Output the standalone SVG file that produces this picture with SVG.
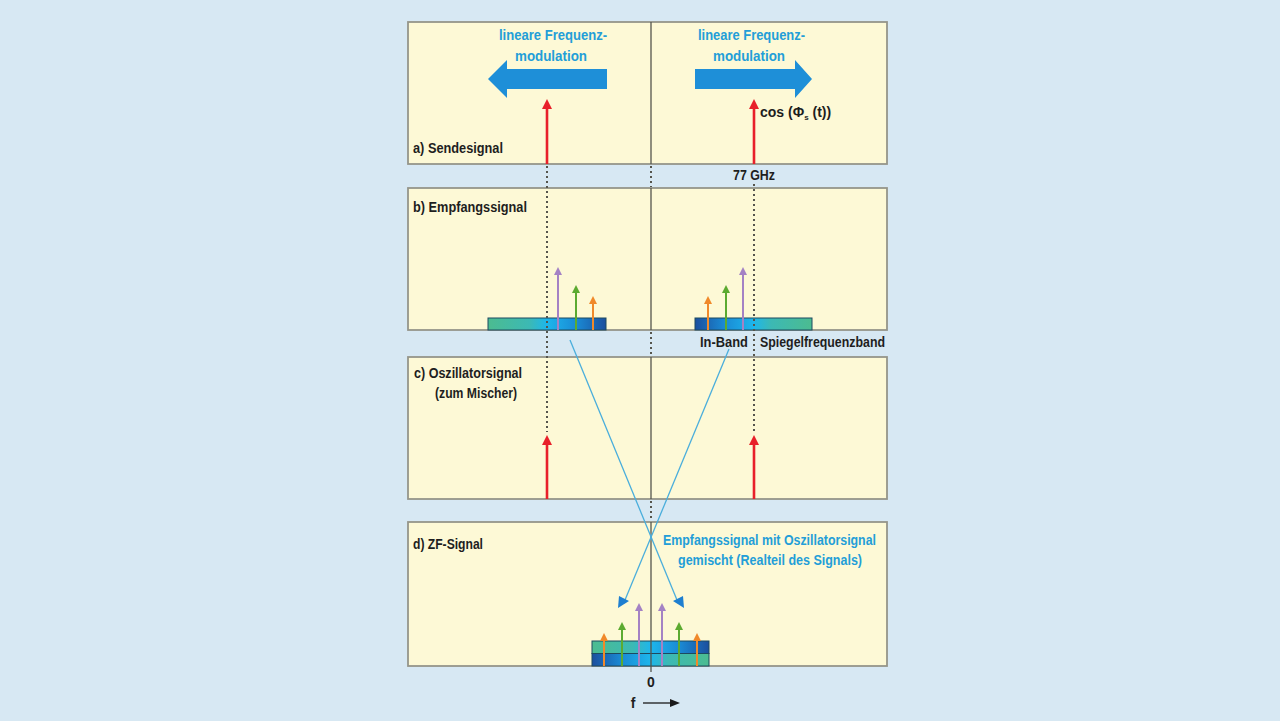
<svg xmlns="http://www.w3.org/2000/svg" width="1280" height="721" viewBox="0 0 1280 721">
<defs>
<style>
.panel{fill:#fdf9d6;stroke:#95958a;stroke-width:1.8}
.lbl{font-family:"Liberation Sans","DejaVu Sans",sans-serif;font-size:14px;font-weight:bold;fill:#1e1e1e}
.blu{font-family:"Liberation Sans","DejaVu Sans",sans-serif;font-size:14px;font-weight:bold;fill:#239ed8}
.axis{stroke:#55554d;stroke-width:1.3}
.dot{stroke:#55554d;stroke-width:2;stroke-dasharray:2 3;fill:none}
.red{stroke:#e8202a;stroke-width:2.6}
.pur{stroke:#a482c4;stroke-width:2}
.grn{stroke:#5caa30;stroke-width:2}
.org{stroke:#f0892a;stroke-width:2}
.diag{stroke:#4aaedc;stroke-width:1.3;fill:none}
.band{stroke:#1d4a60;stroke-width:1}
</style>
<linearGradient id="gLR" x1="0" x2="1" y1="0" y2="0">
<stop offset="0" stop-color="#4cbc90"/><stop offset="0.35" stop-color="#3cb9b4"/><stop offset="0.5" stop-color="#1db6ec"/><stop offset="0.75" stop-color="#1a8ad4"/><stop offset="1" stop-color="#1c4f9e"/>
</linearGradient>
<linearGradient id="gRL" x1="1" x2="0" y1="0" y2="0">
<stop offset="0" stop-color="#4cbc90"/><stop offset="0.35" stop-color="#3cb9b4"/><stop offset="0.5" stop-color="#1db6ec"/><stop offset="0.75" stop-color="#1a8ad4"/><stop offset="1" stop-color="#1c4f9e"/>
</linearGradient>
</defs>
<rect width="1280" height="721" fill="#d7e8f3"/>

<g id="panel-a">
<rect class="panel" x="408" y="22" width="479" height="142"/>
<polygon points="607,69 507,69 507,60 488,79 507,98 507,89 607,89" fill="#1e8fd8"/>
<polygon points="695,69 795,69 795,60 812,79 795,98 795,89 695,89" fill="#1e8fd8"/>
<text class="blu" x="499" y="40" textLength="108" lengthAdjust="spacingAndGlyphs">lineare Frequenz-</text>
<text class="blu" x="515" y="61" textLength="72" lengthAdjust="spacingAndGlyphs">modulation</text>
<text class="blu" x="698" y="40" textLength="107" lengthAdjust="spacingAndGlyphs">lineare Frequenz-</text>
<text class="blu" x="713" y="61" textLength="72" lengthAdjust="spacingAndGlyphs">modulation</text>
<line class="red" x1="547" y1="164" x2="547" y2="108"/>
<polygon points="542,109 547,99 552,109" fill="#e8202a"/>
<line class="red" x1="754" y1="164" x2="754" y2="108"/>
<polygon points="749,109 754,99 759,109" fill="#e8202a"/>
<text class="lbl" x="760" y="117" font-size="12.5">cos (Φ<tspan font-size="8" dy="3">s</tspan><tspan dy="-3"> (t))</tspan></text>
<text class="lbl" x="413" y="153" textLength="90" lengthAdjust="spacingAndGlyphs">a) Sendesignal</text>
</g>
<text class="lbl" x="733" y="180" font-size="13" textLength="42" lengthAdjust="spacingAndGlyphs">77 GHz</text>

<g id="panel-b">
<rect class="panel" x="408" y="188" width="479" height="142"/>
<text class="lbl" x="413" y="212" textLength="114" lengthAdjust="spacingAndGlyphs">b) Empfangssignal</text>
<rect class="band" x="488" y="318" width="118" height="12" fill="url(#gLR)"/>
<rect class="band" x="695" y="318" width="117" height="12" fill="url(#gRL)"/>
<line class="pur" x1="558" y1="330" x2="558" y2="274"/><polygon points="554,275 558,267 562,275" fill="#a482c4"/>
<line class="grn" x1="576" y1="330" x2="576" y2="292"/><polygon points="572,293 576,285 580,293" fill="#5caa30"/>
<line class="org" x1="593" y1="330" x2="593" y2="303"/><polygon points="589,304 593,296 597,304" fill="#f0892a"/>
<line class="org" x1="708" y1="330" x2="708" y2="303"/><polygon points="704,304 708,296 712,304" fill="#f0892a"/>
<line class="grn" x1="726" y1="330" x2="726" y2="292"/><polygon points="722,293 726,285 730,293" fill="#5caa30"/>
<line class="pur" x1="743" y1="330" x2="743" y2="274"/><polygon points="739,275 743,267 747,275" fill="#a482c4"/>
</g>
<text class="lbl" x="700" y="347" textLength="48" lengthAdjust="spacingAndGlyphs">In-Band</text>
<text class="lbl" x="760" y="347" textLength="125" lengthAdjust="spacingAndGlyphs">Spiegelfrequenzband</text>

<g id="panel-c">
<rect class="panel" x="408" y="357" width="479" height="142"/>
<text class="lbl" x="414" y="378" textLength="108" lengthAdjust="spacingAndGlyphs">c) Oszillatorsignal</text>
<text class="lbl" x="435" y="398" textLength="82" lengthAdjust="spacingAndGlyphs">(zum Mischer)</text>
<line class="red" x1="547" y1="499" x2="547" y2="444"/>
<polygon points="542,445 547,435 552,445" fill="#e8202a"/>
<line class="red" x1="754" y1="499" x2="754" y2="444"/>
<polygon points="749,445 754,435 759,445" fill="#e8202a"/>
</g>

<g id="panel-d">
<rect class="panel" x="408" y="522" width="479" height="144"/>
<text class="lbl" x="413" y="549" textLength="70" lengthAdjust="spacingAndGlyphs">d) ZF-Signal</text>
<text class="blu" x="663" y="545" textLength="213" lengthAdjust="spacingAndGlyphs">Empfangssignal mit Oszillatorsignal</text>
<text class="blu" x="678" y="565" textLength="184" lengthAdjust="spacingAndGlyphs">gemischt (Realteil des Signals)</text>
<rect class="band" x="592" y="641" width="117" height="12.5" fill="url(#gLR)"/>
<rect class="band" x="592" y="653.5" width="117" height="12.5" fill="url(#gRL)"/>
<line class="org" x1="604" y1="666" x2="604" y2="640"/><polygon points="600,641 604,633 608,641" fill="#f0892a"/>
<line class="grn" x1="622" y1="666" x2="622" y2="629"/><polygon points="618,630 622,622 626,630" fill="#5caa30"/>
<line class="pur" x1="639" y1="666" x2="639" y2="610"/><polygon points="635,611 639,603 643,611" fill="#a482c4"/>
<line class="pur" x1="662" y1="666" x2="662" y2="610"/><polygon points="658,611 662,603 666,611" fill="#a482c4"/>
<line class="grn" x1="679" y1="666" x2="679" y2="629"/><polygon points="675,630 679,622 683,630" fill="#5caa30"/>
<line class="org" x1="697" y1="666" x2="697" y2="640"/><polygon points="693,641 697,633 701,641" fill="#f0892a"/>
</g>

<g id="axis">
<line class="axis" x1="651" y1="22" x2="651" y2="164"/>
<line class="axis" x1="651" y1="188" x2="651" y2="330"/>
<line class="axis" x1="651" y1="357" x2="651" y2="499"/>
<line class="axis" x1="651" y1="522" x2="651" y2="672"/>
<text class="lbl" x="651" y="687" text-anchor="middle">0</text>
<text class="lbl" x="633" y="708" text-anchor="middle">f</text>
<line x1="643" y1="703" x2="672" y2="703" stroke="#1a1a1a" stroke-width="1.3"/>
<polygon points="670,699 680,703 670,707" fill="#1a1a1a"/>
</g>

<g id="connectors">
<line class="dot" x1="651" y1="166" x2="651" y2="187"/>
<line class="dot" x1="651" y1="332" x2="651" y2="356"/>
<line class="dot" x1="651" y1="501" x2="651" y2="521"/>
<line class="dot" x1="547" y1="166" x2="547" y2="432"/>
<line class="dot" x1="754" y1="184" x2="754" y2="432"/>
<line class="diag" x1="570" y1="340" x2="677" y2="600"/>
<line class="diag" x1="729" y1="349" x2="625" y2="600"/>
<polygon points="673,601 684,608 683,596" fill="#1e7fd0"/>
<polygon points="629,601 618,608 619,596" fill="#1e7fd0"/>
</g>
</svg>
